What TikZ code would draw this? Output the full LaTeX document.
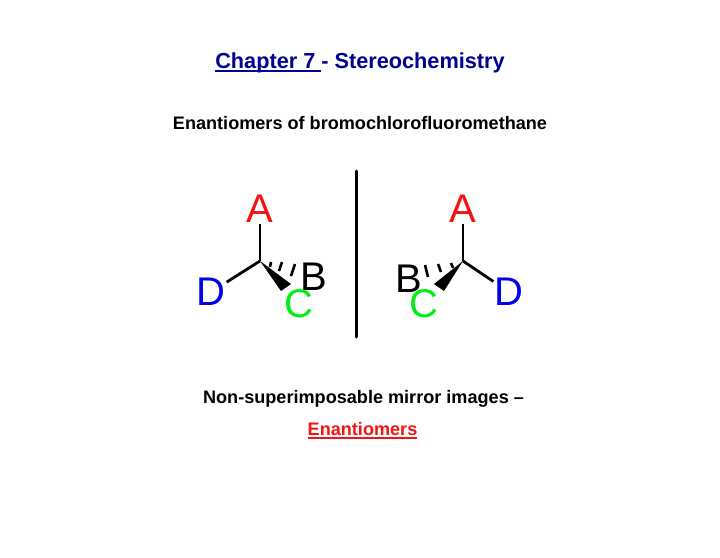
\documentclass[tikz,border=0pt]{standalone}
\usepackage{fontspec}
\setmainfont{Liberation Sans}
\usepackage{xcolor}
\definecolor{titleblue}{RGB}{0,0,145}
\definecolor{atomgreen}{RGB}{0,240,20}
\definecolor{atomblue}{RGB}{0,0,235}
\definecolor{atomred}{RGB}{240,20,20}
\newcommand{\thickul}[1]{\setbox0=\hbox{#1}\rlap{\rule[-3.2pt]{\wd0}{2pt}}\box0}

\begin{document}
\begin{tikzpicture}[x=1pt,y=-1pt]
  % styles
  \tikzset{atom/.style = {inner sep=1pt, font=\fontsize{40}{40}\selectfont}}
  \tikzset{heading/.style = {inner sep=0pt, font=\fontsize{18.1}{22}\selectfont\bfseries}}
  \tikzset{bond/.style = {draw, line width=2.8pt}}
  \tikzset{hash/.style = {draw, line width=2.6pt}}
  \tikzset{mirror/.style = {draw, line width=3pt, line cap=round}}

  \useasboundingbox (0,0) rectangle (720,557);

  % text
  \node[heading, text=titleblue, font=\fontsize{21.7}{26}\selectfont\bfseries] (title) at (360,63) {\thickul{Chapter 7\ }- Stereochemistry};
  \node[heading] (subtitle) at (360,123) {Enantiomers of bromochlorofluoromethane};
  \node[heading] (caption) at (363.5,399) {Non-superimposable mirror images --};
  \node[heading, text=atomred] (name) at (362.5,431) {\thickul{Enantiomers}};

  % mirror line
  \coordinate (mtop) at (356,171);
  \coordinate (mbot) at (356,337);
  \draw[mirror] (mtop) -- (mbot);

  % left molecule
  \coordinate (c1) at (260,261);
  \node[atom, text=atomred] (a1) at (260,209) {A};
  \node[atom] (b1) at (314,277) {B};
  \node[atom, text=atomgreen] (cc1) at (299,304) {C};
  \node[atom, text=atomblue] (d1) at (211,292) {D};
  \coordinate (w1a) at (291,284);
  \coordinate (w1b) at (281,291);
  \draw[bond] (c1) -- (a1);
  \draw[bond] (c1) -- (d1);
  \fill (c1) -- (w1a) -- (w1b) -- cycle;
  \draw[hash] (271,262) -- (270,267);
  \draw[hash] (282,262) -- (279,271);
  \draw[hash] (295,264) -- (291,276);

  % right molecule
  \coordinate (c2) at (463,261);
  \node[atom, text=atomred] (a2) at (463,209) {A};
  \node[atom] (b2) at (409,279) {B};
  \node[atom, text=atomgreen] (cc2) at (424,304) {C};
  \node[atom, text=atomblue] (d2) at (509,292) {D};
  \coordinate (w2a) at (434,284);
  \coordinate (w2b) at (444,291);
  \draw[bond] (c2) -- (a2);
  \draw[bond] (c2) -- (d2);
  \fill (c2) -- (w2a) -- (w2b) -- cycle;
  \draw[hash] (451,263) -- (453,268);
  \draw[hash] (438,264) -- (441,272);
  \draw[hash] (425,265) -- (428,277);
\end{tikzpicture}
\end{document}
